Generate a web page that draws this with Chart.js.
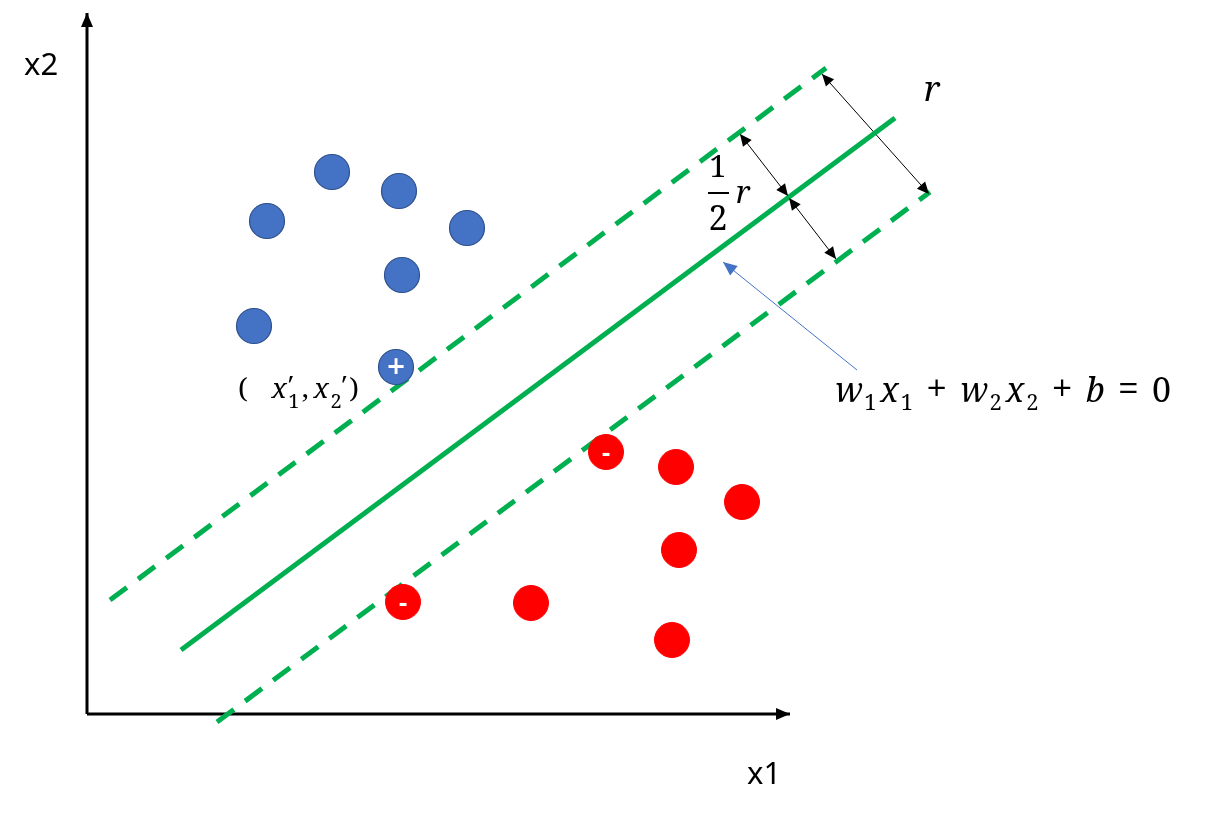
<!DOCTYPE html>
<html>
<head>
<meta charset="utf-8">
<script src="https://cdn.jsdelivr.net/npm/chart.js@4.4.1/dist/chart.umd.min.js"></script>
<style>
  html, body { margin: 0; padding: 0; background: #ffffff; }
  .wrap { position: relative; width: 1227px; height: 815px; }
</style>
</head>
<body>
<div class="wrap"><canvas id="svm"></canvas></div>
<script>
// the plane uses picture units: x grows to the right, y grows downward
const blueX = [332, 399, 267, 467, 402, 254, 396];
const blueY = [172, 191, 221, 228, 275, 326, 367];

const redX = [606, 676, 742, 679, 403, 531, 672];
const redY = [452, 467, 502, 550, 602, 603, 640];

// support vectors and their class sign
const supportX = [396, 606, 403];
const supportY = [367, 452, 602];
const supportSign = ["+", "-", "-"];

// hyperplane and the two margins
const upperMarginX = [110, 826];
const upperMarginY = [600, 68];
const hyperplaneX = [181, 895];
const hyperplaneY = [650, 118];
const lowerMarginX = [217, 930];
const lowerMarginY = [722, 192];

// axes (second point is the arrow tip)
const axisX1X = [87, 790];
const axisX1Y = [714, 714];
const axisX2X = [87, 87];
const axisX2Y = [714, 13];

// distance arrows
const rArrowX = [822, 929];
const rArrowY = [74, 194];
const halfUpX = [740, 788];
const halfUpY = [134, 196];
const halfDownX = [789, 836];
const halfDownY = [198, 259];

// pointer from the equation to the hyperplane
const pointerX = [857, 723];
const pointerY = [370, 262];

const GREEN = "#00b050";
const BLUE = "#4472c4";
const MATH = "'Noto Serif'";

function pts(xs, ys) {
  return xs.map((x, i) => ({ x: x, y: ys[i] }));
}

function segment(xs, ys, color, width, extra) {
  return Object.assign({
    type: "line",
    data: pts(xs, ys),
    borderColor: color,
    borderWidth: width,
    pointRadius: 0,
    fill: false,
    tension: 0,
    order: 2
  }, extra || {});
}

function arrowHead(ctx, fx, fy, tx, ty, len, half, color) {
  const a = Math.atan2(ty - fy, tx - fx);
  ctx.save();
  ctx.fillStyle = color;
  ctx.translate(tx, ty);
  ctx.rotate(a);
  ctx.beginPath();
  ctx.moveTo(0, 0);
  ctx.lineTo(-len, -half);
  ctx.lineTo(-len, half);
  ctx.closePath();
  ctx.fill();
  ctx.restore();
}

// sets a formula between two x positions; the "gap" weights share the spare room
function drawFitted(ctx, px, py, left, right, baseline, runs, size, subSize, subDrop) {
  const fontOf = r => (r.it ? "italic " : "") + (r.size || (r.sub ? subSize : size)) + "px " + MATH;
  let natural = 0, weights = 0;
  runs.forEach(r => {
    ctx.font = fontOf(r);
    if (!r.stack) natural += ctx.measureText(r.t).width;
    weights += r.gap || 0;
  });
  const unit = weights ? Math.max(0, (px(right) - px(left) - natural) / weights) : 0;
  let x = px(left);
  ctx.textAlign = "left";
  runs.forEach(r => {
    ctx.font = fontOf(r);
    ctx.fillText(r.t, x, py(baseline + (r.sub ? subDrop : 0) + (r.dy || 0)));
    if (!r.stack) x += ctx.measureText(r.t).width + (r.gap || 0) * unit;
  });
}

function drawGlyph(ctx, px, py, t, x, baseline, size, italic) {
  ctx.textAlign = "center";
  ctx.font = (italic ? "italic " : "") + size + "px " + MATH;
  ctx.fillText(t, px(x), py(baseline));
  ctx.textAlign = "left";
}

const decorations = {
  id: "decorations",
  afterDatasetsDraw(chart) {
    const ctx = chart.ctx;
    const sx = chart.scales.x, sy = chart.scales.y;
    const px = v => sx.getPixelForValue(v);
    const py = v => sy.getPixelForValue(v);

    chart.data.datasets.forEach((ds, i) => {
      if (!ds.arrow) return;
      const p = chart.getDatasetMeta(i).data;
      const a = p[0], b = p[p.length - 1];
      const s = ds.arrow;
      arrowHead(ctx, a.x, a.y, b.x, b.y, s.len, s.half, ds.borderColor);
      if (s.both) arrowHead(ctx, b.x, b.y, a.x, a.y, s.len, s.half, ds.borderColor);
    });

    ctx.save();
    ctx.textBaseline = "alphabetic";
    ctx.fillStyle = "#000000";

    // axis names
    ctx.font = "31px 'Noto Sans'";
    ctx.fillText("x2", px(24), py(75));
    ctx.fillText("x1", px(747), py(784));

    // signs on the support vectors
    ctx.fillStyle = "#ffffff";
    ctx.textAlign = "center";
    ctx.textBaseline = "middle";
    supportSign.forEach((s, i) => {
      if (s === "+") {
        ctx.font = "bold 24px 'DejaVu Sans'";
        ctx.fillText("+", px(supportX[i]), py(supportY[i] + 1));
      } else {
        ctx.font = "bold 22px 'DejaVu Sans'";
        ctx.fillText("-", px(supportX[i]), py(supportY[i] + 3));
      }
    });

    ctx.fillStyle = "#000000";
    ctx.textBaseline = "alphabetic";

    // r
    drawGlyph(ctx, px, py, "r", 932, 101, 35, true);

    // 1/2 r
    drawGlyph(ctx, px, py, "1", 718, 177, 31, false);
    drawGlyph(ctx, px, py, "2", 718, 230, 34, false);
    ctx.fillRect(px(708), py(192), px(729) - px(708), 2);
    drawGlyph(ctx, px, py, "r", 743, 203, 31, true);

    // ( x1', x2' )
    drawFitted(ctx, px, py, 238, 359, 398, [
      { t: "(", gap: 3 },
      { t: "x", it: true, gap: 0.2 },
      { t: "\u2032", stack: true, dy: -2 },
      { t: "1", sub: true, gap: 0.3 },
      { t: ",", gap: 0.6 },
      { t: "x", it: true, gap: 0.2 },
      { t: "2", sub: true },
      { t: "\u2032", dy: -2, gap: 0.3 },
      { t: ")" }
    ], 28, 20, 10);

    // w1x1 + w2x2 + b = 0
    drawFitted(ctx, px, py, 835, 1171, 402, [
      { t: "w", it: true, gap: 0.1 },
      { t: "1", sub: true, gap: 0.3 },
      { t: "x", it: true, gap: 0.15 },
      { t: "1", sub: true, gap: 1 },
      { t: "+", size: 38, gap: 1 },
      { t: "w", it: true, gap: 0.1 },
      { t: "2", sub: true, gap: 0.3 },
      { t: "x", it: true, gap: 0.15 },
      { t: "2", sub: true, gap: 1 },
      { t: "+", size: 38, gap: 1 },
      { t: "b", it: true, gap: 1 },
      { t: "=", size: 38, gap: 1 },
      { t: "0" }
    ], 34, 22, 8);

    ctx.restore();
  }
};

function draw() {
  new Chart(document.getElementById("svm"), {
    type: "scatter",
    data: {
      datasets: [
        {
          data: pts(blueX, blueY),
          backgroundColor: BLUE,
          borderColor: "#2f528f",
          borderWidth: 1.2,
          pointRadius: 17.5,
          order: 0
        },
        {
          data: pts(redX, redY),
          backgroundColor: "#ff0000",
          borderColor: "#ff0000",
          borderWidth: 1,
          pointRadius: 17.5,
          order: 0
        },
        segment(upperMarginX, upperMarginY, GREEN, 5, { borderDash: [21, 14] }),
        segment(hyperplaneX, hyperplaneY, GREEN, 5),
        segment(lowerMarginX, lowerMarginY, GREEN, 5, { borderDash: [21, 14] }),
        segment(axisX1X, axisX1Y, "#000000", 3, { arrow: { len: 14, half: 6 } }),
        segment(axisX2X, axisX2Y, "#000000", 3, { arrow: { len: 14, half: 6 } }),
        segment(rArrowX, rArrowY, "#000000", 1, { arrow: { len: 12, half: 5.5, both: true } }),
        segment(halfUpX, halfUpY, "#000000", 1, { arrow: { len: 12, half: 5.5, both: true } }),
        segment(halfDownX, halfDownY, "#000000", 1, { arrow: { len: 12, half: 5.5, both: true } }),
        segment(pointerX, pointerY, BLUE, 1, { arrow: { len: 14, half: 6 } })
      ]
    },
    options: {
      responsive: true,
      maintainAspectRatio: false,
      animation: false,
      events: [],
      layout: { padding: 0, autoPadding: false },
      plugins: {
        legend: { display: false },
        tooltip: { enabled: false }
      },
      scales: {
        x: { type: "linear", min: 0, max: 1227, display: false },
        y: { type: "linear", min: 0, max: 815, reverse: true, display: false }
      }
    },
    plugins: [decorations]
  });
}

Promise.all([
  document.fonts.load("32px 'Noto Serif'"),
  document.fonts.load("italic 32px 'Noto Serif'"),
  document.fonts.load("31px 'Noto Sans'")
]).then(draw, draw);
</script>
</body>
</html>
